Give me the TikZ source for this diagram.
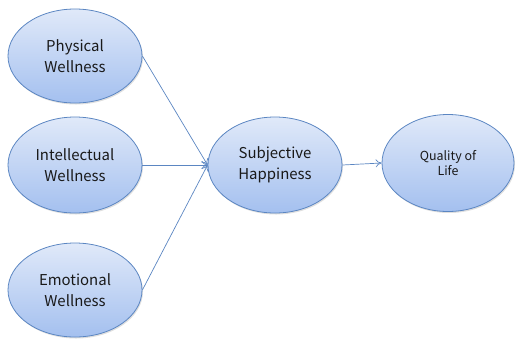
\documentclass[tikz,border=0pt]{standalone}
\usepackage{fontspec}
\setmainfont{Noto Sans CJK KR}
\usetikzlibrary{shapes.geometric,shadows,arrows.meta}
\definecolor{edgeblue}{HTML}{5B86C2}
\definecolor{filltop}{HTML}{E0E9F9}
\definecolor{fillbot}{HTML}{A4C0EF}
\tikzset{
  bubble/.style={ellipse, draw=edgeblue, line width=0.8bp,
    top color=filltop, bottom color=fillbot,
    minimum width=134bp, minimum height=94bp, inner sep=0pt,
    align=center, font=\fontsize{15}{21}\selectfont, text=black!90,
    drop shadow={shadow xshift=1bp, shadow yshift=-1.5bp, opacity=0.25}},
  link/.style={draw=edgeblue, line width=0.7bp, -{To[length=6bp,width=8bp]}}
}
\begin{document}
\begin{tikzpicture}[x=1bp,y=-1bp]
  \useasboundingbox (0,0) rectangle (515,343);
  \node[bubble] (phys) at (75,56) {Physical\\Wellness};
  \node[bubble, minimum height=96bp] (intel) at (75,165) {Intellectual\\Wellness};
  \node[bubble] (emo) at (75,290) {Emotional\\Wellness};
  \node[bubble, minimum height=96bp] (subj) at (275,165) {Subjective\\Happiness};
  \node[bubble, minimum width=132bp, minimum height=97bp,
        font=\fontsize{12.5}{15.5}\selectfont] (qol) at (448,163) {Quality of\\Life};
  \draw[link] (phys.east) -- (subj.west);
  \draw[link] (intel.east) -- (subj.west);
  \draw[link] (emo.east) -- (subj.west);
  \draw[link] (subj.east) -- (qol.west);
\end{tikzpicture}
\end{document}
